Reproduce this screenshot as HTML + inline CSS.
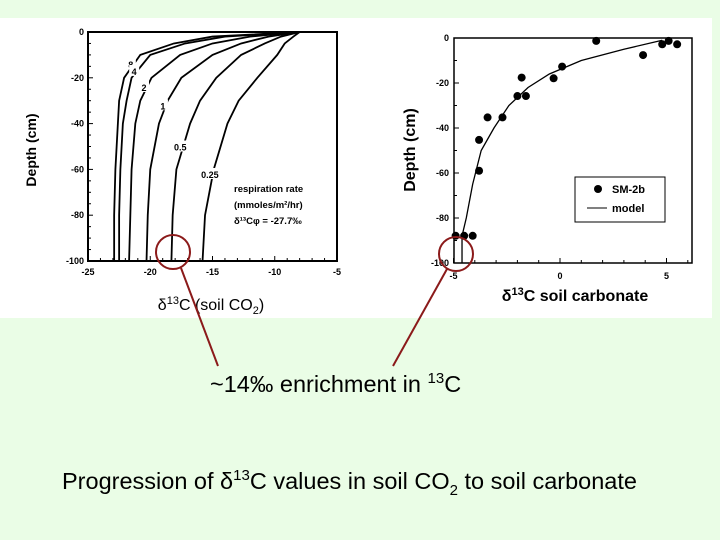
<!DOCTYPE html>
<html><head><meta charset="utf-8"><style>
body{margin:0;width:720px;height:540px;overflow:hidden;background:#eafde6;font-family:"Liberation Sans",sans-serif}
svg{display:block}
</style></head><body>
<svg width="720" height="540" xmlns="http://www.w3.org/2000/svg">
<rect x="0" y="0" width="720" height="540" fill="#eafde6"/>
<rect x="0" y="18" width="712" height="300" fill="#ffffff"/>
<g id="left"></g>
<g id="right"></g>
<g>
<circle cx="173" cy="252" r="17" fill="none" stroke="#8b1a1a" stroke-width="2"/>
<circle cx="456" cy="254" r="17" fill="none" stroke="#8b1a1a" stroke-width="2"/>
<line x1="181" y1="268" x2="218" y2="366" stroke="#8b1a1a" stroke-width="2"/>
<line x1="447" y1="269" x2="393" y2="366" stroke="#8b1a1a" stroke-width="2"/>
<text x="210" y="392" font-size="23.5" fill="#000">~14‰ enrichment in <tspan font-size="15" dy="-9">13</tspan><tspan dy="9">C</tspan></text>
<text x="62" y="489" font-size="23.5" fill="#000">Progression of δ<tspan font-size="15" dy="-9">13</tspan><tspan dy="9">C values in soil CO</tspan><tspan font-size="15" dy="6">2</tspan><tspan dy="-6"> to soil carbonate</tspan></text>
</g>
</svg>
<script>
// Left chart data
const depthsL = [0,-2,-5,-10,-20,-30,-40,-60,-80,-100];
const rates = ['8','4','2','1','0.5','0.25'];
const c8 = [-8,-15,-18.1,-20.8,-22.1,-22.5,-22.6,-22.8,-22.9,-22.9];
const c4 = [-8,-14,-17.2,-20,-21.5,-21.9,-22.2,-22.4,-22.5,-22.5];
const c2 = [-8,-12,-15,-17.6,-19.9,-20.8,-21.2,-21.5,-21.6,-21.7];
const c1 = [-8,-10.5,-12.7,-15,-17.5,-18.6,-19.3,-20,-20.2,-20.3];
const c05 = [-8,-9.5,-10.8,-12.7,-14.7,-16,-16.8,-17.9,-18.2,-18.3];
const c025 = [-8,-8.5,-9.2,-9.8,-11.4,-12.9,-13.8,-14.9,-15.6,-15.8];
const labelDepth = [-14,-17,-24,-32,-50,-62];
const xTicksL = [-25,-20,-15,-10,-5];
const yTicksL = [0,-20,-40,-60,-80,-100];
// Right chart data
const obsX = [1.7,4.8,5.1,5.5,3.9,0.1,-0.3,-1.8,-2.0,-1.6,-2.7,-3.4,-3.8,-3.8,-4.9,-4.5,-4.1];
const obsD = [-1.3,-2.8,-1.3,-2.8,-7.6,-12.7,-17.9,-17.6,-25.8,-25.8,-35.3,-35.3,-45.3,-59,-87.9,-87.9,-87.9];
const modelX = [-4.6,-4.6,-4.4,-4.1,-3.7,-3.1,-2.4,-1.5,-0.5,1,3,4.8];
const modelD = [-100,-88,-80,-65,-50,-40,-30,-22,-16,-10,-5,-1];
const xTicksR = [-5,0,5];
const yTicksR = [0,-20,-40,-60,-80,-100];

const NS='http://www.w3.org/2000/svg';
function mk(tag,attrs,parent){const e=document.createElementNS(NS,tag);for(const k in attrs)e.setAttribute(k,attrs[k]);parent.appendChild(e);return e;}

// ---- Left
const L=document.getElementById('left');
const xL=v=>88+(v+25)*(337-88)/20;
const yL=d=>32+(-d)*(261-32)/100;
let r=mk('rect',{x:88,y:32,width:249,height:229,fill:'none',stroke:'#000','stroke-width':2},L);


for(let v=-25;v<=-5;v+=1){const len=(v%5===0)?5:3;mk('line',{x1:xL(v),y1:261,x2:xL(v),y2:261-len,stroke:'#000'},L);}
for(let d=0;d>=-100;d-=5){const len=(d%20===0)?5:3;mk('line',{x1:88,y1:yL(d),x2:88+len,y2:yL(d),stroke:'#000'},L);}
xTicksL.forEach(v=>{const t=mk('text',{x:xL(v),y:275,'font-size':9,'text-anchor':'middle','font-weight':'bold'},L);t.textContent=v;

});
yTicksL.forEach(d=>{const t=mk('text',{x:84,y:yL(d)+3,'font-size':9,'text-anchor':'end','font-weight':'bold'},L);t.textContent=d;

});
const curves=[c8,c4,c2,c1,c05,c025];
curves.forEach((c,i)=>{
  const p=mk('path',{d:c.map((v,j)=>(j?'L':'M')+xL(v)+','+yL(depthsL[j])).join(' '),fill:'none',stroke:'#000','stroke-width':1.8},L);
  
  
  const ld=labelDepth[i];let k=0;while(depthsL[k+1]>ld)k++;
  const f=(ld-depthsL[k])/(depthsL[k+1]-depthsL[k]);const lv=c[k]+f*(c[k+1]-c[k]);
  const w=rates[i].length*6+4;
  mk('rect',{x:xL(lv)-w/2-3,y:yL(ld)-6,width:w,height:11,fill:'#fff'},L);
  const t=mk('text',{x:xL(lv)-3,y:yL(ld)+4,'font-size':9,'text-anchor':'middle','font-weight':'bold'},L);t.textContent=rates[i];
  
  
});
[['respiration rate',234,192],['(mmoles/m²/hr)',234,208],['δ¹³Cφ  =  -27.7‰',234,224]].forEach(a=>{const t=mk('text',{x:a[1],y:a[2],'font-size':9.5,'font-weight':'bold'},L);t.textContent=a[0];

});
let yt=mk('text',{x:36,y:150,'font-size':14,'font-weight':'bold','text-anchor':'middle',transform:'rotate(-90 36 150)'},L);yt.textContent='Depth (cm)';


let xt=mk('text',{x:211,y:310,'font-size':16,'text-anchor':'middle'},L);xt.innerHTML='δ<tspan font-size="11" dy="-6">13</tspan><tspan dy="6">C (soil CO</tspan><tspan font-size="11" dy="4">2</tspan><tspan dy="-4">)</tspan>';



// ---- Right
const R=document.getElementById('right');
const xR=v=>560+v*21.3;
const yR=d=>38+(-d)*2.25;
r=mk('rect',{x:454,y:38,width:238,height:225,fill:'none',stroke:'#000','stroke-width':1.5},R);


for(let v=-5;v<=6;v+=1){const len=(v%5===0)?5:3;mk('line',{x1:xR(v),y1:263,x2:xR(v),y2:263-len,stroke:'#000'},R);}
for(let d=0;d>=-100;d-=10){const len=(d%20===0)?5:3;mk('line',{x1:454,y1:yR(d),x2:454+len,y2:yR(d),stroke:'#000'},R);}
xTicksR.forEach(v=>{const t=mk('text',{x:xR(v),y:279,'font-size':9,'text-anchor':'middle','font-weight':'bold'},R);t.textContent=v;

});
yTicksR.forEach(d=>{const t=mk('text',{x:449,y:yR(d)+3,'font-size':9,'text-anchor':'end','font-weight':'bold'},R);t.textContent=d;

});
const mp=mk('path',{d:modelX.map((v,j)=>(j?'L':'M')+xR(v)+','+yR(modelD[j])).join(' '),fill:'none',stroke:'#000','stroke-width':1.3},R);


obsX.forEach((v,i)=>{const c=mk('circle',{cx:xR(v),cy:yR(obsD[i]),r:4,fill:'#000'},R);

});
const lg=mk('g',{},R);


mk('rect',{x:575,y:177,width:90,height:45,fill:'#fff',stroke:'#000','stroke-width':1},lg);
mk('circle',{cx:598,cy:189,r:4,fill:'#000'},lg);
let t1=mk('text',{x:612,y:193,'font-size':11,'font-weight':'bold'},lg);t1.textContent='SM-2b';


mk('line',{x1:587,y1:208,x2:607,y2:208,stroke:'#000'},lg);
let t2=mk('text',{x:612,y:212,'font-size':11,'font-weight':'bold'},lg);t2.textContent='model';


yt=mk('text',{x:415,y:150,'font-size':16,'font-weight':'bold','text-anchor':'middle',transform:'rotate(-90 415 150)'},R);yt.textContent='Depth (cm)';


xt=mk('text',{x:575,y:301,'font-size':16,'font-weight':'bold','text-anchor':'middle'},R);xt.innerHTML='δ<tspan font-size="11" dy="-6">13</tspan><tspan dy="6">C soil carbonate</tspan>';


</script>
</body></html>
